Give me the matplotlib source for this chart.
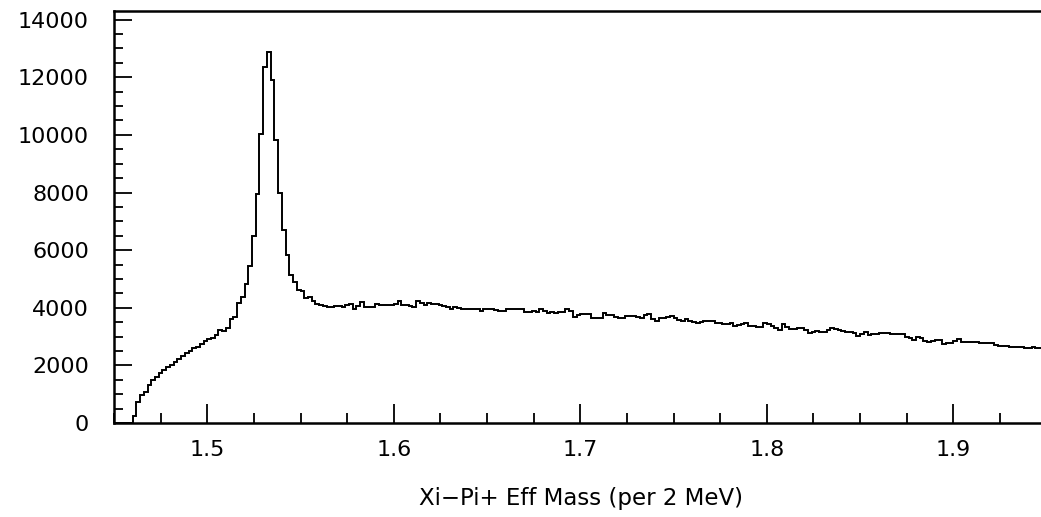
import numpy as np
import matplotlib
matplotlib.use("Agg")
import matplotlib.pyplot as plt
from matplotlib.ticker import MultipleLocator

# histogram: 2 MeV bins starting at 1.450 GeV
bin_lo = 1.450
bin_width = 0.002

counts = [
    0, 0, 0, 0, 0, 250, 740, 970, 1090, 1320,
    1490, 1610, 1750, 1840, 1930, 2020, 2100, 2210, 2330, 2420,
    2510, 2590, 2650, 2730, 2830, 2900, 2950, 3060, 3230, 3200,
    3280, 3600, 3670, 4150, 4370, 4840, 5435, 6475, 7965, 10030,
    12360, 12880, 11890, 9830, 8000, 6700, 5830, 5120, 4910, 4600,
    4590, 4330, 4370, 4250, 4130, 4087, 4070, 4041, 4041, 4064,
    4050, 4041, 4110, 4134, 3960, 4050, 4192, 4041, 4041, 4041,
    4134, 4110, 4110, 4090, 4087, 4145, 4250, 4110, 4110, 4050,
    4041, 4250, 4180, 4110, 4180, 4134, 4134, 4100, 4064, 4041,
    3944, 4018, 3990, 3960, 3960, 3960, 3960, 3960, 3879, 3960,
    3960, 3960, 3920, 3879, 3879, 3940, 3960, 3960, 3960, 3960,
    3845, 3870, 3902, 3865, 3949, 3880, 3810, 3865, 3810, 3840,
    3865, 3949, 3900, 3694, 3760, 3800, 3780, 3780, 3636, 3636,
    3636, 3810, 3752, 3752, 3680, 3636, 3660, 3717, 3717, 3717,
    3680, 3636, 3760, 3780, 3600, 3540, 3660, 3636, 3680, 3700,
    3660, 3580, 3530, 3600, 3555, 3500, 3463, 3490, 3555, 3555,
    3530, 3463, 3463, 3439, 3439, 3463, 3370, 3400, 3440, 3470,
    3370, 3370, 3347, 3347, 3486, 3420, 3370, 3289, 3231, 3440,
    3330, 3266, 3266, 3289, 3289, 3240, 3139, 3150, 3190, 3170,
    3170, 3231, 3289, 3250, 3231, 3200, 3174, 3150, 3116, 3023,
    3080, 3174, 3058, 3081, 3100, 3116, 3116, 3116, 3093, 3093,
    3093, 3093, 2999, 2940, 2883, 2990, 2960, 2860, 2826, 2860,
    2883, 2883, 2745, 2790, 2790, 2850, 2930, 2826, 2826, 2826,
    2826, 2826, 2790, 2790, 2790, 2768, 2700, 2686, 2686, 2686,
    2650, 2640, 2640, 2640, 2616, 2616, 2640, 2616, 2616, 2616,
]

x_ticks = [1.5, 1.6, 1.7, 1.8, 1.9]
x_labels = ["1.5", "1.6", "1.7", "1.8", "1.9"]
y_ticks = [0, 2000, 4000, 6000, 8000, 10000, 12000, 14000]
xlabel = "Xi\u2212Pi+ Eff Mass (per 2 MeV)"

edges = bin_lo + bin_width * np.arange(len(counts) + 1)

plt.rcParams['font.family'] = ['DejaVu Sans']

fig = plt.figure(figsize=(10.41, 5.17), dpi=100)
ax = fig.add_axes([114 / 1041, 1 - 423 / 517, 1 - 114 / 1041, 412 / 517])

ax.stairs(counts, edges, color="black", linewidth=1.4)

ax.set_xlim(1.45, 1.947)
ax.set_ylim(0, 14300)

ax.set_xticks(x_ticks)
ax.set_xticklabels(x_labels)
ax.set_yticks(y_ticks)
ax.xaxis.set_minor_locator(MultipleLocator(0.025))
ax.yaxis.set_minor_locator(MultipleLocator(500))

ax.tick_params(axis="both", which="both", direction="in", color="black",
               labelsize=16, top=False, right=False)
ax.tick_params(axis="y", which="major", length=13, width=1.3, pad=18)
ax.tick_params(axis="y", which="minor", length=6.5, width=1.3)
ax.tick_params(axis="x", which="major", length=13.5, width=1.3, pad=12)
ax.tick_params(axis="x", which="minor", length=7.5, width=1.3)

for side in ["left", "bottom", "top"]:
    ax.spines[side].set_linewidth(1.8)
ax.spines["right"].set_visible(False)

fig.text(581 / 1041, 1 - 499 / 517, xlabel, ha="center", va="center",
         fontsize=16.5)

fig.savefig("out.png", dpi=100)
